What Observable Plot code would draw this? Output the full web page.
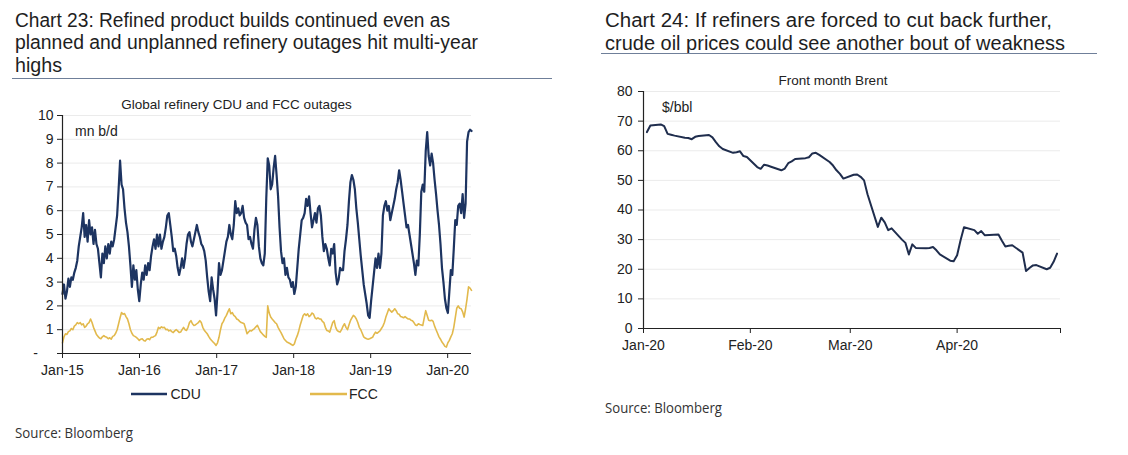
<!DOCTYPE html>
<html><head><meta charset="utf-8">
<script src="https://cdn.jsdelivr.net/npm/d3@7"></script>
<script src="https://cdn.jsdelivr.net/npm/@observablehq/plot@0.6"></script>
<style>
html,body{margin:0;padding:0;background:#fff;}
body{width:1128px;height:455px;position:relative;overflow:hidden;font-family:"Liberation Sans",Arial,sans-serif;}
#left{position:absolute;left:0;top:90px;}
#right{position:absolute;left:590px;top:70px;}
#overlay{position:absolute;left:0;top:0;pointer-events:none;}
</style></head>
<body>
<div id="left"></div>
<div id="right"></div>
<svg id="overlay" width="1128" height="455" xmlns="http://www.w3.org/2000/svg">
  <g font-family="Liberation Sans, Arial, sans-serif" font-size="20" fill="#1e1e1e">
    <text x="15" y="26.6" textLength="435" lengthAdjust="spacingAndGlyphs">Chart 23: Refined product builds continued even as</text>
    <text x="15" y="49.4" textLength="463" lengthAdjust="spacingAndGlyphs">planned and unplanned refinery outages hit multi-year</text>
    <text x="15" y="72.2" textLength="47" lengthAdjust="spacingAndGlyphs">highs</text>
    <text x="605" y="27.2" textLength="447" lengthAdjust="spacingAndGlyphs">Chart 24: If refiners are forced to cut back further,</text>
    <text x="605" y="50" textLength="460" lengthAdjust="spacingAndGlyphs">crude oil prices could see another bout of weakness</text>
  </g>
  <line x1="12" y1="78.5" x2="552" y2="78.5" stroke="#6f7f99" stroke-width="1"/>
  <line x1="601" y1="53.5" x2="1097" y2="53.5" stroke="#6f7f99" stroke-width="1"/>
  <g font-family="Open Sans, sans-serif" font-size="14" fill="#333">
    <text x="15" y="437.5" textLength="118" lengthAdjust="spacingAndGlyphs">Source: Bloomberg</text>
    <text x="605" y="413" textLength="117" lengthAdjust="spacingAndGlyphs">Source: Bloomberg</text>
  </g>
  <g font-family="Liberation Sans, Arial, sans-serif" fill="#222">
    <text x="236.5" y="109" font-size="13.5" text-anchor="middle">Global refinery CDU and FCC outages</text>
    <text x="75" y="135.5" font-size="14">mn b/d</text>
    <text x="833" y="85" font-size="13.5" text-anchor="middle">Front month Brent</text>
    <text x="662" y="111.5" font-size="14">$/bbl</text>
    <line x1="131" y1="394" x2="167" y2="394" stroke="#1d3461" stroke-width="2.5"/>
    <text x="170.5" y="399" font-size="14">CDU</text>
    <line x1="310" y1="394" x2="347" y2="394" stroke="#e2b94c" stroke-width="2.5"/>
    <text x="349" y="399" font-size="14">FCC</text>
  </g>
</svg>
<script>
// ---- Chart 23 data: weekly, starting 1 Jan 2015 (mn b/d) ----
const outageStart = "2015-01-01";
const cduValues = [
2.5,2.9,2.3,2.6,3.15,2.8,3.2,3.1,3.4,3.6,
3.9,4.5,4.9,5.3,5.9,4.9,5.4,4.7,5.6,5.0,
5.3,4.6,5.2,4.6,4.4,3.8,3.2,4.2,3.8,4.5,
4.0,4.6,4.2,4.7,4.5,4.8,5.3,5.8,6.9,8.1,
7.1,6.9,6.1,5.5,5.1,4.5,3.7,2.8,3.7,3.1,
3.5,2.7,2.2,2.9,3.4,3.1,3.7,3.3,3.8,3.5,
4.1,4.5,4.8,4.4,5.0,4.5,5.0,4.4,4.7,4.9,
5.3,5.8,5.9,5.4,4.9,4.3,4.4,4.1,3.6,3.3,
3.6,4.0,3.6,4.0,4.6,5.0,5.1,4.7,4.5,4.8,
5.1,5.4,5.1,4.9,4.6,4.5,4.3,3.9,3.2,2.6,
2.2,3.2,2.7,2.3,1.6,2.6,3.8,3.3,3.5,3.9,
4.3,4.7,4.9,5.4,5.0,4.8,5.4,6.4,5.9,6.1,
5.8,5.9,6.2,5.7,5.5,5.4,4.8,4.9,4.6,4.4,
5.2,5.7,5.4,4.5,4.0,3.8,3.7,4.2,6.5,8.2,
7.9,6.9,7.1,7.8,8.3,7.5,6.6,5.3,4.3,3.8,
4.0,3.3,3.6,3.2,3.1,2.8,3.0,2.5,2.8,3.6,
4.4,5.0,5.6,5.7,5.9,6.5,6.2,6.6,5.9,5.3,
5.6,5.9,5.5,6.1,6.2,5.8,4.9,4.3,4.6,4.4,
4.0,3.7,4.4,4.2,4.6,3.4,2.9,3.1,3.6,3.5,
3.5,4.3,4.8,5.4,6.4,7.2,7.5,7.3,6.9,6.1,
5.5,4.8,4.1,3.5,2.9,2.5,2.1,1.6,1.5,2.2,
2.8,3.4,4.0,3.6,4.2,3.6,4.2,5.8,6.2,6.4,
6.0,6.2,5.6,5.9,6.2,6.5,6.9,7.2,7.7,7.3,
6.8,6.3,5.8,5.3,5.4,5.0,4.6,4.2,3.8,3.3,
3.9,3.7,5.0,6.8,7.1,6.8,8.5,9.3,8.3,7.9,
8.4,8.0,7.3,6.7,6.0,5.4,4.6,3.6,3.0,2.3,
1.9,1.7,2.6,3.5,3.3,4.4,5.6,5.4,6.2,6.3,
5.9,6.7,5.7,6.3,8.9,9.3,9.4,9.35
];
const fccValues = [
0.45,0.7,0.83,0.8,0.92,0.95,1.05,1.0,1.15,1.2,
1.3,1.25,1.3,1.2,1.25,1.1,1.15,1.25,1.3,1.45,
1.3,1.1,0.95,0.8,0.72,0.65,0.62,0.7,0.75,0.7,
0.68,0.62,0.66,0.6,0.72,0.75,0.85,1.0,1.25,1.5,
1.72,1.65,1.68,1.55,1.45,1.25,1.0,0.85,0.75,0.72,
0.68,0.62,0.55,0.6,0.62,0.55,0.52,0.6,0.62,0.58,
0.68,0.68,0.72,0.75,0.9,1.1,1.05,1.12,1.08,1.1,
1.0,1.02,0.95,0.98,0.92,0.88,0.95,1.0,0.95,0.88,
0.9,1.0,1.1,1.0,0.97,1.1,1.3,1.38,1.25,1.18,
1.2,1.25,1.3,1.38,1.3,1.1,0.98,0.9,0.83,0.72,
0.62,0.55,0.48,0.42,0.34,0.45,0.68,1.0,1.25,1.35,
1.5,1.6,1.75,1.88,1.67,1.72,1.6,1.55,1.45,1.42,
1.35,1.3,1.28,1.25,1.05,0.83,0.9,0.97,0.95,1.0,
1.05,1.12,1.18,1.05,0.92,0.85,0.78,0.72,0.68,2.0,
1.7,1.53,1.45,1.38,1.3,1.25,1.1,0.98,0.88,0.75,
0.62,0.55,0.48,0.45,0.42,0.38,0.34,0.4,0.6,0.75,
0.95,1.2,1.4,1.6,1.67,1.6,1.67,1.55,1.6,1.7,
1.65,1.5,1.45,1.5,1.45,1.45,1.35,1.3,1.1,0.97,
0.95,0.9,1.1,1.3,1.38,1.1,0.97,0.92,0.9,1.0,
1.15,1.25,1.1,1.0,1.2,1.38,1.5,1.6,1.55,1.45,
1.3,1.1,1.0,0.85,0.7,0.65,0.62,0.6,0.62,0.65,
0.68,0.8,0.9,0.85,0.9,0.95,1.05,1.15,1.3,1.53,
1.7,1.88,1.8,1.74,1.8,1.88,1.8,1.67,1.65,1.55,
1.53,1.5,1.55,1.5,1.45,1.45,1.4,1.38,1.3,1.2,
1.18,1.25,1.22,1.2,1.18,1.5,1.8,1.6,1.4,1.38,
1.4,1.35,1.15,1.0,0.85,0.7,0.6,0.48,0.4,0.3,
0.27,0.45,0.55,0.7,0.83,1.1,1.5,1.9,2.0,1.9,
1.88,1.75,1.53,1.88,2.3,2.8,2.75,2.65
];
const yearTicks = ["2015-01-01","2016-01-01","2017-01-01","2018-01-01","2019-01-01","2020-01-01"];
const outageYTicks = [0,1,2,3,4,5,6,7,8,9,10];

// ---- Chart 24 data: front month Brent ($/bbl) ----
const brentDates = [
"2020-01-02","2020-01-03","2020-01-06","2020-01-07","2020-01-08","2020-01-09","2020-01-10","2020-01-13","2020-01-14","2020-01-15","2020-01-16","2020-01-17","2020-01-20","2020-01-21","2020-01-22","2020-01-23","2020-01-24","2020-01-27","2020-01-28","2020-01-29","2020-01-30","2020-01-31",
"2020-02-03","2020-02-04","2020-02-05","2020-02-06","2020-02-07","2020-02-10","2020-02-11","2020-02-12","2020-02-13","2020-02-14","2020-02-17","2020-02-18","2020-02-19","2020-02-20","2020-02-21","2020-02-24","2020-02-25","2020-02-26","2020-02-27","2020-02-28",
"2020-03-02","2020-03-03","2020-03-04","2020-03-05","2020-03-06","2020-03-09","2020-03-10","2020-03-11","2020-03-12","2020-03-13","2020-03-16","2020-03-17","2020-03-18","2020-03-19","2020-03-20","2020-03-23","2020-03-24","2020-03-25","2020-03-26","2020-03-27","2020-03-30","2020-03-31",
"2020-04-01","2020-04-02","2020-04-03","2020-04-06","2020-04-07","2020-04-08","2020-04-09","2020-04-13","2020-04-14","2020-04-15","2020-04-16","2020-04-17","2020-04-20","2020-04-21","2020-04-22","2020-04-23","2020-04-24","2020-04-27","2020-04-28","2020-04-29","2020-04-30"
];
const brentValues = [
66.3,68.5,68.9,68.3,65.7,65.4,65.1,64.4,64.3,63.9,64.7,65.0,65.3,64.5,62.9,61.5,60.6,59.3,59.5,59.8,58.2,57.9,
54.5,53.9,55.3,55.0,54.6,53.4,54.0,55.8,56.4,57.2,57.5,57.8,59.1,59.3,58.6,56.2,55.0,53.4,52.2,50.6,
51.9,52.0,51.2,50.0,45.3,34.3,37.4,35.8,33.2,33.8,30.0,28.9,25.0,28.4,27.2,27.1,27.2,27.5,26.4,25.0,22.9,22.7,
24.7,29.8,34.2,33.2,32.0,32.9,31.5,31.7,29.6,27.7,27.9,28.1,25.6,19.4,20.4,21.3,21.4,20.0,20.5,22.5,25.3
];
const monthTicks = ["2020-01-01","2020-02-01","2020-03-01","2020-04-01","2020-05-01"];
const monthLabels = ["Jan-20","Feb-20","Mar-20","Apr-20",""];
const brentYTicks = [0,10,20,30,40,50,60,70,80];

// ---- build tables ----
const t0 = new Date(outageStart + "T00:00:00Z");
const outageDates = cduValues.map((_, i) => d3.utcDay.offset(t0, 7 * i));
const cduRows = cduValues.map((v, i) => ({date: outageDates[i], value: v}));
const fccRows = fccValues.map((v, i) => ({date: outageDates[i], value: v}));
const brentRows = brentValues.map((v, i) => ({date: new Date(brentDates[i] + "T00:00:00Z"), value: v}));
const fmtYM = d3.utcFormat("%b-%y");
const pad = "\u00a0\u00a0\u00a0\u00a0";

const axisStyle = {fontFamily: "Liberation Sans, Arial, sans-serif", fontSize: "14px", color: "#222", background: "transparent", overflow: "visible"};

const left = Plot.plot({
  width: 560, height: 300,
  marginLeft: 62, marginRight: 89, marginTop: 25, marginBottom: 37,
  style: axisStyle,
  x: {type: "utc", domain: [outageDates[0], outageDates[outageDates.length - 1]],
      ticks: yearTicks.map(d => new Date(d + "T00:00:00Z")), tickFormat: fmtYM,
      tickSize: 5, tickPadding: 7, label: null},
  y: {domain: [0, 10], ticks: outageYTicks, tickFormat: d => d === 0 ? "-" + pad : String(d),
      tickSize: 5, tickPadding: 4, label: null},
  marks: [
    Plot.ruleY(outageYTicks.filter(d => d > 0), {stroke: "#ebebeb", strokeWidth: 1}),
    Plot.line(fccRows, {x: "date", y: "value", stroke: "#e2b94c", strokeWidth: 1.6}),
    Plot.line(cduRows, {x: "date", y: "value", stroke: "#1d3461", strokeWidth: 2.2}),
    Plot.ruleX([outageDates[0]], {stroke: "#222", strokeWidth: 1.2}),
    Plot.ruleY([0], {stroke: "#222", strokeWidth: 1.2})
  ]
});
document.getElementById("left").append(left);

const right = Plot.plot({
  width: 538, height: 300,
  marginLeft: 53, marginRight: 68, marginTop: 21, marginBottom: 42,
  style: axisStyle,
  x: {type: "utc", domain: [new Date(monthTicks[0] + "T00:00:00Z"), new Date(monthTicks[4] + "T00:00:00Z")],
      ticks: monthTicks.map(d => new Date(d + "T00:00:00Z")),
      tickFormat: (d, i) => monthLabels[i],
      tickSize: 5, tickPadding: 7, label: null},
  y: {domain: [0, 80], ticks: brentYTicks, tickSize: 5, tickPadding: 6, label: null},
  marks: [
    Plot.ruleY(brentYTicks.filter(d => d > 0), {stroke: "#ebebeb", strokeWidth: 1}),
    Plot.line(brentRows, {x: "date", y: "value", stroke: "#1f2d4d", strokeWidth: 2}),
    Plot.ruleX([new Date(monthTicks[0] + "T00:00:00Z")], {stroke: "#222", strokeWidth: 1.2}),
    Plot.ruleY([0], {stroke: "#222", strokeWidth: 1.2})
  ]
});
document.getElementById("right").append(right);
</script>
</body></html>
